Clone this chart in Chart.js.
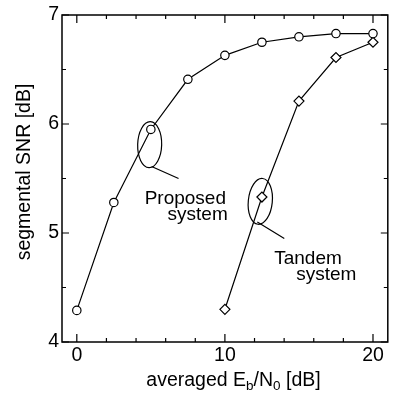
<!DOCTYPE html>
<html>
<head>
<meta charset="utf-8">
<script src="https://cdn.jsdelivr.net/npm/chart.js@4.4.1/dist/chart.umd.min.js"></script>
<style>
  html, body { margin: 0; padding: 0; background: #fff; }
  #wrap { width: 394px; height: 395px; }
</style>
</head>
<body>
<div id="wrap"><canvas id="myChart" width="394" height="395"></canvas></div>
<script>
// data
const ebnoProposed = [0, 2.5, 5, 7.5, 10, 12.5, 15, 17.5, 20];
const snrProposed = [4.29, 5.28, 5.95, 6.41, 6.63, 6.75, 6.80, 6.83, 6.83];
const ebnoTandem = [10, 12.5, 15, 17.5, 20];
const snrTandem = [4.30, 5.33, 6.21, 6.61, 6.75];

// axis ticks
const xTicks = [0, 10, 20];
const yTicks = [4, 5, 6, 7];
const xMinor = [2, 4, 6, 8, 12, 14, 16, 18];
const yMinor = [4.5, 5.5, 6.5];

const FONT = 'Liberation Sans, Arial, Helvetica, sans-serif';

function toPoints(xs, ys) {
    return xs.map((x, i) => ({ x: x, y: ys[i] }));
}

// frame, inward ticks, titles and callouts
const decor = {
    id: 'decor',
    afterDraw(chart) {
        const c = chart.ctx;
        const a = chart.chartArea;
        const sx = chart.scales.x, sy = chart.scales.y;
        c.save();
        c.strokeStyle = '#000';
        c.lineWidth = 1.5;
        c.strokeRect(a.left, a.top, a.right - a.left, a.bottom - a.top);

        c.lineWidth = 1.2;
        c.beginPath();
        const xt = (v, len) => {
            const p = sx.getPixelForValue(v);
            c.moveTo(p, a.bottom); c.lineTo(p, a.bottom - len);
            c.moveTo(p, a.top); c.lineTo(p, a.top + len);
        };
        const yt = (v, len) => {
            const p = sy.getPixelForValue(v);
            c.moveTo(a.left, p); c.lineTo(a.left + len, p);
            c.moveTo(a.right, p); c.lineTo(a.right - len, p);
        };
        xTicks.forEach(v => xt(v, 8));
        xMinor.forEach(v => xt(v, 4));
        yTicks.forEach(v => yt(v, 7));
        yMinor.forEach(v => yt(v, 4));
        c.stroke();

        // callout ellipses and leader lines
        const px = v => sx.getPixelForValue(v);
        const py = v => sy.getPixelForValue(v);
        c.lineWidth = 1.2;
        c.beginPath();
        c.ellipse(px(4.92), py(5.81), 12, 23, 0.03, 0, Math.PI * 2);
        c.stroke();
        c.beginPath();
        c.ellipse(px(12.39), py(5.29), 12, 23, 0.1, 0, Math.PI * 2);
        c.stroke();
        c.beginPath();
        c.moveTo(px(5.05), py(5.61)); c.lineTo(px(6.87), py(5.50));
        c.moveTo(px(12.19), py(5.10)); c.lineTo(px(14.01), py(4.95));
        c.stroke();

        c.fillStyle = '#000';
        c.font = '19px ' + FONT;
        c.textAlign = 'left';
        c.textBaseline = 'alphabetic';
        c.fillText('Proposed', px(4.58), py(5.27));
        c.fillText('system', px(6.13), py(5.12));
        c.fillText('Tandem', px(13.33), py(4.72));
        c.fillText('system', px(14.81), py(4.57));

        // y title
        c.font = '19.5px ' + FONT;
        c.save();
        c.translate(30, 172);
        c.rotate(-Math.PI / 2);
        c.textAlign = 'center';
        c.fillText('segmental SNR [dB]', 0, 0);
        c.restore();

        // x title with subscripts
        const parts = [
            ['averaged E', 19.5, 0],
            ['b', 13.5, 4],
            ['/N', 19.5, 0],
            ['0', 13.5, 4],
            [' [dB]', 19.5, 0]
        ];
        let w = 0;
        parts.forEach(p => { c.font = p[1] + 'px ' + FONT; w += c.measureText(p[0]).width; });
        let x = 233.5 - w / 2;
        const base = 386;
        c.textAlign = 'left';
        parts.forEach(p => {
            c.font = p[1] + 'px ' + FONT;
            c.fillText(p[0], x, base + p[2]);
            x += c.measureText(p[0]).width;
        });
        c.restore();
    }
};

const ctx = document.getElementById('myChart').getContext('2d');
const chart = new Chart(ctx, {
    type: 'scatter',
    data: {
        datasets: [{
            label: 'Proposed system',
            data: toPoints(ebnoProposed, snrProposed),
            showLine: true,
            borderColor: '#000',
            borderWidth: 1.2,
            pointStyle: 'circle',
            pointRadius: 4.2,
            pointBackgroundColor: '#fff',
            pointBorderColor: '#000',
            pointBorderWidth: 1.2
        }, {
            label: 'Tandem system',
            data: toPoints(ebnoTandem, snrTandem),
            showLine: true,
            borderColor: '#000',
            borderWidth: 1.2,
            pointStyle: 'rectRot',
            pointRadius: 5,
            pointBackgroundColor: '#fff',
            pointBorderColor: '#000',
            pointBorderWidth: 1.2
        }]
    },
    options: {
        responsive: false,
        animation: false,
        events: [],
        layout: { padding: { top: 15, right: 5, left: 0, bottom: 0 } },
        plugins: { legend: { display: false }, tooltip: { enabled: false } },
        scales: {
            x: {
                type: 'linear',
                min: -1,
                max: 21,
                grid: { display: false, drawTicks: false },
                border: { display: false },
                afterBuildTicks: s => { s.ticks = xTicks.map(v => ({ value: v })); },
                afterFit: s => { s.height = 53; },
                ticks: { color: '#000', font: { family: FONT, size: 19.5 }, padding: 2, maxRotation: 0 }
            },
            y: {
                type: 'linear',
                min: 4,
                max: 7,
                grid: { display: false, drawTicks: false },
                border: { display: false },
                afterBuildTicks: s => { s.ticks = yTicks.map(v => ({ value: v })); },
                afterFit: s => { s.width = 62; },
                ticks: { color: '#000', font: { family: FONT, size: 19.5 }, padding: 3 }
            }
        }
    },
    plugins: [decor]
});
</script>
</body>
</html>
